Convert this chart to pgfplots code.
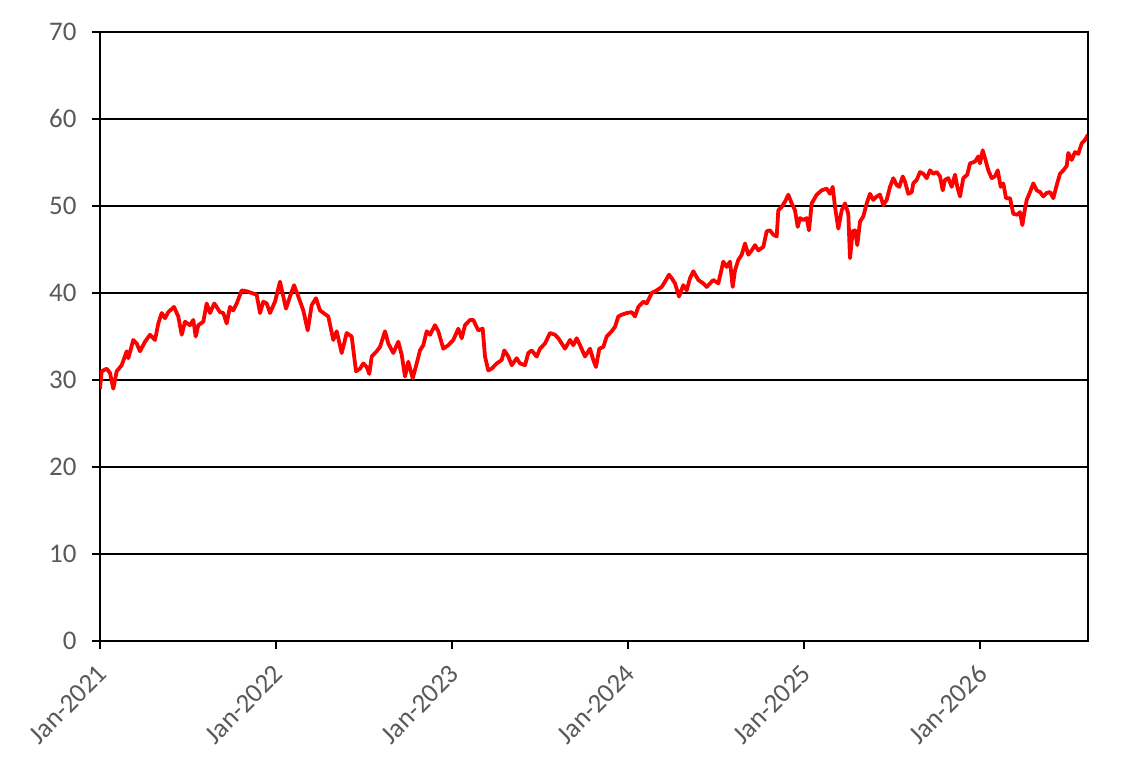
\documentclass[border=0pt]{standalone}
\usepackage{pgfplots}
\pgfplotsset{compat=1.18}
\usepackage{fontspec}
\setmainfont{Carlito}
\definecolor{txtgray}{HTML}{595959}
\begin{document}
\begin{tikzpicture}
\useasboundingbox (-100bp,-128bp) rectangle (1044bp,641bp);
\begin{axis}[
  at={(0,0)}, anchor=south west,
  scale only axis, width=988bp, height=609bp,
  xmin=0, xmax=988, ymin=0, ymax=70,
  xtick={0,176,352,528,704,880},
  xticklabels={Jan-2021,Jan-2022,Jan-2023,Jan-2024,Jan-2025,Jan-2026},
  ytick={0,10,20,30,40,50,60,70},
  tick align=outside, tick pos=left,
  major tick length=8bp,
  ymajorgrids, grid style={black, line width=1.8bp},
  axis line style={black, line width=2.5bp},
  every tick/.style={black, line width=2.5bp},
  /pgf/number format/assume math mode=true,
  tick label style={font=\fontsize{27}{32}\selectfont, text=txtgray},
  yticklabel style={xshift=-12bp},
  xticklabel style={xshift=5bp, yshift=-18bp, rotate=45, anchor=east},
]
\addplot[color=red, line width=3.8bp, line join=round] coordinates {
(0,29.0) (1.7,31.0) (6.7,31.3) (10,30.8) (13.3,29.0) (16.7,31.0) (21.7,31.7) (26.7,33.3) (28.3,32.5) (33.3,34.6)
(36.7,34.2) (40,33.3) (45,34.4) (50,35.2) (55,34.6) (58.3,36.5) (61.7,37.7) (65,37.1) (68.3,37.8) (74,38.4)
(78.3,37.3) (81.7,35.2) (85,36.7) (90,36.3) (93.3,36.9) (95.7,35.0) (98.3,36.3) (103.3,36.7) (106.7,38.8) (110,37.7)
(114.3,38.8) (120,37.8) (123.3,37.7) (126.7,36.5) (130,38.4) (133.3,38.0) (136.7,38.8) (141.7,40.3) (146.7,40.2) (151.7,40.0)
(156.7,39.8) (160,37.7) (163.3,39.0) (166.7,38.8) (170,37.7) (175,39.0) (180,41.3) (186,38.2) (190,39.6) (194,40.9)
(198.3,39.6) (203.3,38.0) (207.7,35.7) (211.7,38.6) (216,39.4) (220,38.0) (228.3,37.3) (233.3,34.6) (236.7,35.6) (241.7,33.1)
(246.7,35.4) (251.7,35.0) (256,31.0) (260,31.3) (263.3,31.9) (266.7,31.5) (269.3,30.7) (271.7,32.7) (276.7,33.3) (280,33.8)
(285,35.6) (288.3,34.2) (293.3,33.1) (298.3,34.4) (301.7,32.9) (305,30.4) (308.3,32.1) (312.7,30.2) (316.7,31.9) (320,33.4)
(323.3,34.0) (326.7,35.6) (330,35.2) (335,36.3) (338.3,35.6) (343.3,33.6) (348.3,34.0) (353.3,34.6) (358.3,35.9) (361.7,34.8)
(365,36.3) (370,36.9) (373.3,36.9) (378.3,35.7) (382.7,35.9) (385,32.7) (388.3,31.1) (391.7,31.3) (396.7,31.9) (401.7,32.3)
(404.3,33.4) (408.3,32.7) (411.7,31.7) (416.7,32.5) (420,31.9) (425,31.7) (428.3,33.1) (431.7,33.4) (436.7,32.7) (440,33.6)
(445,34.2) (450,35.4) (455,35.2) (458.3,34.8) (461.7,34.2) (465,33.6) (470,34.6) (473.3,34.0) (476.7,34.8) (480,34.0)
(485,32.7) (490,33.6) (493.3,32.3) (496,31.5) (499.3,33.6) (503.3,33.8) (506.7,35.0) (511.7,35.6) (515,36.1) (518.3,37.3)
(521.7,37.5) (526.7,37.7) (531.7,37.8) (535,37.3) (538.3,38.4) (543.3,39.0) (546.7,38.8) (551.7,40.0) (556.7,40.3) (561.7,40.7)
(565,41.3) (569,42.1) (571.7,41.7) (575,41.1) (579,39.6) (583.3,40.9) (586.7,40.3) (590,41.7) (593.3,42.5) (598.3,41.5)
(603.3,41.1) (606.7,40.7) (611.7,41.3) (613.3,41.5) (618.3,41.1) (623.3,43.6) (626.7,43.0) (630,43.6) (632.7,40.7) (635,42.6)
(638.3,43.8) (641.7,44.4) (645,45.7) (648.3,44.4) (651.7,44.9) (655,45.5) (658.3,44.9) (663.3,45.3) (666.7,47.1) (670,47.2)
(673.3,46.7) (676.7,46.5) (678.3,49.5) (681.7,49.9) (685,50.5) (688.3,51.3) (691.7,50.3) (695,49.5) (697.7,47.6) (700,48.6)
(703.3,48.4) (706.7,48.6) (709,47.2) (711.7,50.3) (716.7,51.3) (721.7,51.8) (726.7,52.0) (730,51.4) (732.7,52.2) (735,49.9)
(738.3,47.4) (741.7,49.5) (745,50.3) (748.3,49.1) (750,44.0) (752.7,47.1) (755,47.2) (757.3,45.5) (760,48.2) (763.3,48.8)
(766.7,50.3) (770,51.4) (773.3,50.7) (776.7,51.1) (780,51.3) (783.3,50.1) (786.7,50.7) (790,52.2) (793.3,53.2) (796.7,52.4)
(799.3,52.2) (802.7,53.4) (805,52.8) (808.3,51.4) (811.7,51.6) (813.3,52.6) (816.7,53.0) (820,53.9) (823.3,53.7) (826.7,53.2)
(830,54.1) (833.3,53.7) (836.7,53.9) (840,53.4) (842.7,51.8) (845,53.0) (848.3,53.2) (851.7,52.2) (855,53.6) (857.3,52.2)
(860,51.1) (863.3,53.2) (867.3,53.6) (870,54.9) (875,55.1) (878.3,55.7) (880,54.9) (882.7,56.4) (885,55.5) (888.3,54.1)
(891.7,53.2) (895,53.4) (897.7,54.1) (900.7,52.2) (903.3,52.6) (906,50.9) (910,50.9) (913.3,49.1) (917.3,49.0) (920,49.3)
(922.3,47.8) (925,49.7) (926.7,50.7) (930,51.6) (933.3,52.6) (936.7,51.8) (940,51.6) (943.3,51.1) (946.7,51.5) (950,51.6)
(953.3,50.9) (956.7,52.4) (960,53.7) (963.3,54.1) (966.7,54.6) (968.3,56.1) (971.7,55.3) (975,56.2) (978.3,56.0) (981.7,57.2)
(985,57.6) (988,58.2)
};
\draw[black, line width=2.5bp] (rel axis cs:0,1) -- (rel axis cs:1,1) -- (rel axis cs:1,0);
\end{axis}
\end{tikzpicture}
\end{document}
